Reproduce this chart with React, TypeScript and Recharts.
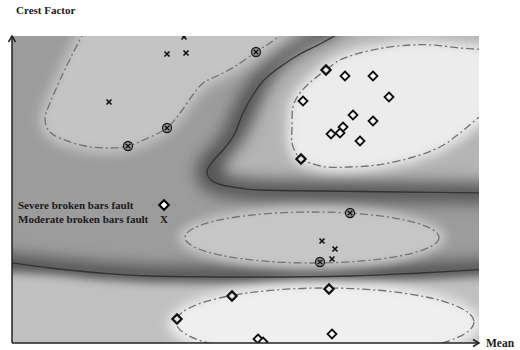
import React from 'react';
import { ScatterChart, Scatter, XAxis, YAxis, Legend } from 'recharts';

// units: Mean 0..467, Crest Factor 0..307 (no ticks on the original)
const severeFault = [
  [333, 267], [361, 267], [291, 242], [377, 246], [341, 228], [361, 222], [331, 216],
  [328, 210], [319, 209], [348, 202], [320, 9], [246, 4], [251, 1],
];
const severeSupport = [[314, 273], [289, 184], [220, 47], [317, 54], [165, 24]];
const moderateFault = [[172, 306], [155, 289], [174, 290], [97, 241], [310, 102], [323, 94], [320, 84]];
const moderateSupport = [[244, 291], [155, 215], [116, 197], [338, 130], [308, 81]];

// margin contours (dash-dot)
const marginTopLeft = [
  [73, 313], [60, 288], [48, 263], [38, 240], [33, 225], [37, 212], [50, 204], [73, 197], [96, 195],
  [116, 197], [136, 205], [155, 215], [168, 230], [180, 247], [191, 260], [205, 267], [222, 276],
  [244, 291], [258, 300], [276, 313],
];
const marginTopRight = [
  [478, 293], [448, 295], [421, 298], [398, 298], [371, 295], [348, 290], [328, 283], [314, 273],
  [301, 263], [288, 250], [281, 236], [280, 216], [280, 200], [285, 188], [289, 184], [298, 180],
  [315, 176], [338, 176], [365, 178], [398, 185], [428, 196], [448, 210], [466, 225], [478, 235],
];
const marginMiddle = [[173, 105], [427, 105], [300, 131], [300, 80]];
const marginBottom = [[164, 21], [462, 21], [313, 55], [313, -13]];

// decision boundaries (solid)
const boundaryUpper = [
  [333, 313], [308, 299], [288, 289], [268, 276], [252, 263], [241, 248], [231, 230], [222, 208],
  [211, 193], [201, 182], [195, 172], [199, 163], [210, 158], [228, 155], [248, 153], [308, 152],
  [388, 151], [478, 150],
];
const boundaryLower = [[-7, 81], [38, 75], [88, 70], [138, 67], [238, 66], [338, 67], [408, 70], [478, 74]];

// shading regions
const plotFill = [[-20, -20], [490, -20], [490, 330], [-20, 330]];
const moderateZone = [
  [-30, 340], [318, 340], [296, 306], [278, 296], [259, 283], [243, 269], [231, 253], [221, 234],
  [212, 212], [202, 199], [190, 187], [183, 172], [189, 156], [206, 148], [228, 145], [248, 143],
  [308, 142], [388, 141], [490, 140], [490, 84], [408, 80], [338, 77], [238, 76], [138, 77],
  [88, 80], [38, 85], [-30, 92],
];
const severeZoneTop = [
  [348, 340], [323, 306], [300, 298], [281, 285], [266, 271], [255, 255], [246, 235], [236, 212],
  [226, 196], [215, 184], [210, 172], [214, 167], [226, 165], [248, 163], [308, 162], [388, 161],
  [490, 160], [490, 340],
];
const severeZoneBottom = [[-30, 73], [38, 69], [88, 64], [138, 61], [238, 60], [338, 61], [408, 64], [490, 68], [490, -30], [-30, -30]];
const moderateCoreTop = [
  [66, 313], [54, 288], [42, 263], [32, 240], [27, 225], [31, 208], [46, 198], [72, 191], [96, 189],
  [116, 191], [138, 199], [158, 210], [172, 226], [185, 244], [196, 256], [209, 262], [226, 271],
  [248, 286], [264, 298], [284, 313], [284, 340], [66, 340],
];
const severeCoreTop = [
  [490, 293], [478, 298], [448, 300], [421, 303], [398, 303], [371, 300], [346, 295], [325, 288],
  [310, 278], [296, 266], [283, 252], [276, 237], [275, 216], [275, 200], [280, 185], [286, 179],
  [298, 175], [315, 171], [338, 171], [365, 173], [398, 180], [430, 191], [452, 205], [472, 221],
  [490, 232],
];
const moderateCoreMiddle = [[166, 105], [434, 105], [300, 137], [300, 74]];
const severeCoreBottom = [[156, 21], [470, 21], [313, 61], [313, -22]];

const yAxisLine = [[0, 0], [0, 309]];
const xAxisLine = [[0, 0], [470, 0]];

const toPts = (a: number[][]) => a.map(([x, y]) => ({ x, y }));

type Pt = { x: number; y: number };

const smooth = (pts: Pt[]) => {
  const n = pts.length;
  const get = (i: number) => pts[Math.max(0, Math.min(n - 1, i))];
  let d = `M${pts[0].x},${pts[0].y}`;
  for (let i = 0; i < n - 1; i++) {
    const p0 = get(i - 1), p1 = get(i), p2 = get(i + 1), p3 = get(i + 2);
    d += ` C${p1.x + (p2.x - p0.x) / 6},${p1.y + (p2.y - p0.y) / 6} ${p2.x - (p3.x - p1.x) / 6},${p2.y - (p3.y - p1.y) / 6} ${p2.x},${p2.y}`;
  }
  return d;
};

const poly = (pts: Pt[]) => pts.map((p, i) => `${i ? 'L' : 'M'}${p.x},${p.y}`).join(' ') + ' Z';

const box = (pts: Pt[]) => {
  const xs = pts.map((p) => p.x);
  const ys = pts.map((p) => p.y);
  const x0 = Math.min(...xs), x1 = Math.max(...xs), y0 = Math.min(...ys), y1 = Math.max(...ys);
  return { cx: (x0 + x1) / 2, cy: (y0 + y1) / 2, rx: (x1 - x0) / 2, ry: (y1 - y0) / 2 };
};

const blurDef = (id: string, blur: number) => (
  <defs>
    <filter id={id} x="-50%" y="-50%" width="200%" height="200%">
      <feGaussianBlur stdDeviation={blur} />
    </filter>
  </defs>
);

const region = (id: string, fill: string, blur: number) => (p: any) => (
  <g>
    {blur > 0 && blurDef(id, blur)}
    <path d={poly(p.points)} fill={fill} stroke="none" filter={blur > 0 ? `url(#${id})` : undefined} />
  </g>
);

const ovalRegion = (id: string, fill: string, blur: number) => (p: any) => (
  <g>
    {blurDef(id, blur)}
    <ellipse {...box(p.points)} fill={fill} stroke="none" filter={`url(#${id})`} />
  </g>
);

const DASH = '8 3 2 3';
const dashed = (p: any) => <path d={smooth(p.points)} fill="none" stroke="#727272" strokeWidth={1.3} strokeDasharray={DASH} />;
const dashedOval = (p: any) => <ellipse {...box(p.points)} fill="none" stroke="#727272" strokeWidth={1.3} strokeDasharray={DASH} />;
const solid = (p: any) => <path d={smooth(p.points)} fill="none" stroke="#333" strokeWidth={1.3} />;

const arrow = (p: any) => {
  const pts: Pt[] = p.points;
  const a = pts[0], b = pts[pts.length - 1];
  const len = Math.hypot(b.x - a.x, b.y - a.y);
  const ux = (b.x - a.x) / len, uy = (b.y - a.y) / len;
  const h = 6, w = 3.5;
  return (
    <g stroke="#222" strokeWidth={1.5} fill="none">
      <line x1={a.x} y1={a.y} x2={b.x} y2={b.y} />
      <path d={`M${b.x - ux * h - uy * w},${b.y - uy * h + ux * w} L${b.x},${b.y} L${b.x - ux * h + uy * w},${b.y - uy * h - ux * w}`} />
    </g>
  );
};

const none = () => <g />;

const diamondPath = (cx: number, cy: number, r: number) => `M${cx},${cy - r} L${cx + r},${cy} L${cx},${cy + r} L${cx - r},${cy} Z`;

const Diamond = (p: any) => <path d={diamondPath(p.cx, p.cy, 4.5)} fill="#f6f6f6" stroke="#111" strokeWidth={1.8} />;

const DiamondSupport = (p: any) => (
  <g>
    <circle cx={p.cx} cy={p.cy} r={4} fill="#555" stroke="none" />
    <path d={diamondPath(p.cx, p.cy, 4.6)} fill="#e8e8e8" stroke="#111" strokeWidth={2.2} />
  </g>
);

const Cross = (p: any) => (
  <g stroke="#111" strokeWidth={1.6}>
    <line x1={p.cx - 2.5} y1={p.cy - 2.5} x2={p.cx + 2.5} y2={p.cy + 2.5} />
    <line x1={p.cx - 2.5} y1={p.cy + 2.5} x2={p.cx + 2.5} y2={p.cy - 2.5} />
  </g>
);

const CrossSupport = (p: any) => (
  <g>
    <circle cx={p.cx} cy={p.cy} r={4.5} fill="#9a9a9a" stroke="#1a1a1a" strokeWidth={1.3} />
    <g stroke="#111" strokeWidth={1.4}>
      <line x1={p.cx - 2.3} y1={p.cy - 2.3} x2={p.cx + 2.3} y2={p.cy + 2.3} />
      <line x1={p.cx - 2.3} y1={p.cy + 2.3} x2={p.cx + 2.3} y2={p.cy - 2.3} />
    </g>
  </g>
);

const serif = '"Liberation Serif", "Times New Roman", serif';

const LegendBox = () => (
  <div style={{ fontFamily: serif, fontWeight: 'bold', fontSize: 11, lineHeight: '14px', color: '#1a1a1a' }}>
    <div style={{ display: 'flex', alignItems: 'center' }}>
      <span style={{ width: 140, whiteSpace: 'nowrap' }}>Severe broken bars fault</span>
      <svg width={12} height={14}>
        <path d={diamondPath(6, 7, 4.8)} fill="#fff" stroke="#000" strokeWidth={2} />
      </svg>
    </div>
    <div style={{ display: 'flex', alignItems: 'center' }}>
      <span style={{ width: 140, whiteSpace: 'nowrap' }}>Moderate broken bars fault</span>
      <span style={{ width: 12, textAlign: 'center' }}>X</span>
    </div>
  </div>
);

const shade = (data: number[][], render: any) => (
  <Scatter data={toPts(data)} shape={none} line={render} lineType="joint" legendType="none" isAnimationActive={false} />
);

export default function App() {
  return (
    <div style={{ position: 'absolute', left: 0, top: 0, width: 520, height: 350, background: '#fff' }}>
      <ScatterChart width={520} height={350} margin={{ top: 36, right: 41, bottom: 7, left: 12 }}>
        <XAxis type="number" dataKey="x" domain={[0, 467]} allowDataOverflow hide />
        <YAxis type="number" dataKey="y" domain={[0, 307]} allowDataOverflow hide />
        <XAxis type="number" dataKey="x" xAxisId="axis" domain={[0, 467]} hide />
        <YAxis type="number" dataKey="y" yAxisId="axis" domain={[0, 307]} hide />

        {shade(plotFill, region('bg', '#525252', 0))}
        {shade(moderateZone, region('mz', '#9c9c9c', 8))}
        {shade(severeZoneTop, region('sz', '#b4b4b4', 8))}
        {shade(severeZoneBottom, region('sb', '#c0c0c0', 5))}
        {shade(moderateCoreTop, region('mc', '#c4c4c4', 6))}
        {shade(severeCoreTop, region('sc', '#ececec', 6))}
        {shade(moderateCoreMiddle, ovalRegion('mm', '#c6c6c6', 5))}
        {shade(severeCoreBottom, ovalRegion('sbc', '#efefef', 6))}

        {shade(marginTopLeft, dashed)}
        {shade(marginTopRight, dashed)}
        {shade(marginMiddle, dashedOval)}
        {shade(marginBottom, dashedOval)}
        {shade(boundaryUpper, solid)}
        {shade(boundaryLower, solid)}

        <Scatter data={toPts(severeFault)} shape={Diamond} legendType="none" isAnimationActive={false} />
        <Scatter data={toPts(severeSupport)} shape={DiamondSupport} legendType="none" isAnimationActive={false} />
        <Scatter data={toPts(moderateFault)} shape={Cross} legendType="none" isAnimationActive={false} />
        <Scatter data={toPts(moderateSupport)} shape={CrossSupport} legendType="none" isAnimationActive={false} />

        <Scatter data={toPts(yAxisLine)} xAxisId="axis" yAxisId="axis" shape={none} line={arrow} lineType="joint" legendType="none" isAnimationActive={false} />
        <Scatter data={toPts(xAxisLine)} xAxisId="axis" yAxisId="axis" shape={none} line={arrow} lineType="joint" legendType="none" isAnimationActive={false} />

        <Legend layout="vertical" align="center" verticalAlign="middle" content={LegendBox} wrapperStyle={{ left: 18, top: 198, width: 160 }} />
      </ScatterChart>
      <div style={{ position: 'absolute', left: 16, top: 3, fontFamily: serif, fontWeight: 'bold', fontSize: 11, lineHeight: '14px', color: '#1a1a1a' }}>
        Crest Factor
      </div>
      <div style={{ position: 'absolute', left: 486, top: 336, fontFamily: serif, fontWeight: 'bold', fontSize: 11.5, lineHeight: '14px', color: '#1a1a1a' }}>
        Mean
      </div>
    </div>
  );
}
